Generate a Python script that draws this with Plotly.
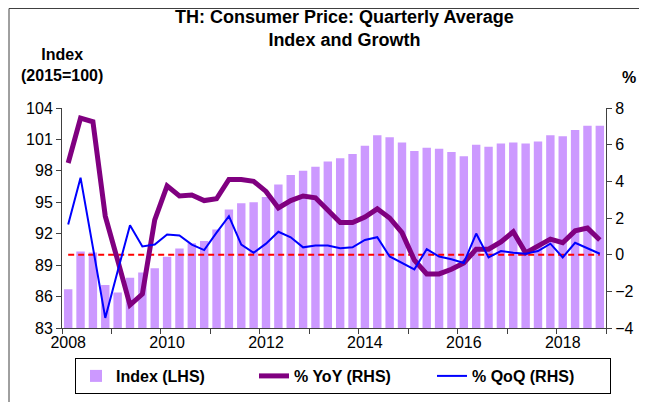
import plotly.graph_objects as go

# ── Datos trimestrales 2008Q1 - 2018Q4 ───────────────────────────────────────
trimestres = [f"{a}Q{q}" for a in range(2008, 2019) for q in range(1, 5)]

indice = [
    86.7, 90.3, 90.2, 87.1, 86.4, 87.8, 88.3, 88.7,
    89.8, 90.6, 91.1, 91.3, 92.4, 94.3, 94.9, 95.0,
    95.5, 96.7, 97.6, 98.0, 98.4, 98.9, 99.2, 99.6,
    100.4, 101.4, 101.2, 100.7, 99.9, 100.2, 100.1, 99.8,
    99.4, 100.5, 100.3, 100.6, 100.7, 100.6, 100.8, 101.4,
    101.3, 101.9, 102.3, 102.3,
]

yoy = [
    5.0, 7.45, 7.25, 2.1, -0.3, -2.75, -2.15, 1.9,
    3.75, 3.2, 3.25, 2.95, 3.05, 4.1, 4.1, 4.0,
    3.45, 2.55, 2.95, 3.2, 3.1, 2.45, 1.75, 1.75,
    2.05, 2.5, 2.0, 1.2, -0.3, -1.05, -1.05, -0.8,
    -0.45, 0.3, 0.3, 0.7, 1.25, 0.1, 0.45, 0.85,
    0.65, 1.3, 1.45, 0.8,
]

qoq = [
    1.65, 4.2, 0.4, -3.45, -0.9, 1.6, 0.45, 0.55,
    1.1, 1.05, 0.55, 0.25, 1.2, 2.1, 0.55, 0.1,
    0.6, 1.25, 0.95, 0.4, 0.5, 0.5, 0.35, 0.4,
    0.8, 0.95, -0.1, -0.45, -0.8, 0.3, -0.1, -0.25,
    -0.45, 1.15, -0.15, 0.2, 0.1, 0.05, 0.2, 0.6,
    -0.15, 0.65, 0.35, 0.05,
]

linea_cero = [0] * len(trimestres)

anios = [str(a) for a in range(2008, 2019, 2)]
pos = list(range(len(trimestres)))

FUENTE = "Liberation Sans, Arial, sans-serif"
# la página tiene 8 px de margen en el body: la figura ocupa 639x394
ANCHO, ALTO, OFF = 639, 394, 8
PX_L, PX_R, PX_T, PX_B = 62, 606, 108, 328  # área de trazado (px de página)


def px_x(p):
    return (p - PX_L) / (PX_R - PX_L)


def px_y(p):
    return (PX_B - p) / (PX_B - PX_T)


fig = go.Figure()

fig.add_trace(go.Bar(
    x=pos, y=indice, name="<b>Index (LHS)</b>",
    marker_color="#CC99FF", marker_line_width=0,
    width=0.68, yaxis="y",
))
fig.add_trace(go.Scatter(
    x=pos, y=linea_cero, mode="lines", showlegend=False,
    line=dict(color="#FF0000", width=2, dash="6px,4px"), yaxis="y2",
))
fig.add_trace(go.Scatter(
    x=pos, y=yoy, name="<b>% YoY (RHS)</b>", mode="lines",
    line=dict(color="#800080", width=5), yaxis="y2",
))
fig.add_trace(go.Scatter(
    x=pos, y=qoq, name="<b>% QoQ (RHS)</b>", mode="lines",
    line=dict(color="#0000FF", width=2), yaxis="y2",
))

eje = dict(showgrid=False, zeroline=False, showline=True,
           linecolor="#404040", linewidth=1,
           ticks="outside", ticklen=5, tickcolor="#404040",
           tickfont=dict(family=FUENTE, size=16, color="black"))

fig.update_layout(
    width=ANCHO, height=ALTO,
    margin=dict(l=PX_L - OFF, r=ANCHO - (PX_R - OFF), t=PX_T - OFF,
                b=ALTO - (PX_B - OFF), autoexpand=False),
    paper_bgcolor="white", plot_bgcolor="white",
    font=dict(family=FUENTE, color="black"),
    xaxis=dict(
        range=[-0.5, len(trimestres) - 0.5],
        tickmode="array", tickvals=pos[::8], ticktext=anios,
        showgrid=False, zeroline=False, showline=True,
        linecolor="#404040", linewidth=1, ticks="",
        tickfont=dict(family=FUENTE, size=16, color="black"),
        minor=dict(tickmode="array",
                   tickvals=[p - 0.5 for p in pos[::4]] + [len(trimestres) - 0.5],
                   ticks="outside", ticklen=5, tickcolor="#404040", showgrid=False),
    ),
    yaxis=dict(range=[83, 104], tickvals=list(range(83, 105, 3)), **eje),
    yaxis2=dict(range=[-4, 8], tickvals=list(range(-4, 9, 2)),
                overlaying="y", side="right", **eje),
    legend=dict(
        orientation="h", x=px_x(343), xanchor="center",
        y=px_y(394), yanchor="bottom",
        bordercolor="black", borderwidth=1,
        font=dict(family=FUENTE, size=16, color="black"),
        traceorder="normal", entrywidth=133,
    ),
    annotations=[
        dict(text="<b>TH: Consumer Price: Quarterly Average<br>Index and Growth</b>",
             xref="paper", yref="paper", x=px_x(344), y=px_y(29),
             xanchor="center", yanchor="middle", showarrow=False,
             font=dict(family=FUENTE, size=18)),
        dict(text="<b>Index<br>(2015=100)</b>", xref="paper", yref="paper",
             x=0, y=px_y(65), xanchor="center", yanchor="middle",
             showarrow=False, font=dict(family=FUENTE, size=16)),
        dict(text="<b>%</b>", xref="paper", yref="paper",
             x=px_x(629), y=px_y(77), xanchor="center", yanchor="middle",
             showarrow=False, font=dict(family=FUENTE, size=16)),
    ],
    shapes=[dict(type="rect", xref="paper", yref="paper",
                 x0=px_x(OFF + 1), x1=px_x(700), y0=px_y(450), y1=px_y(OFF + 0.5),
                 line=dict(color="#404040", width=1), layer="below")],
)

fig.write_html("out.html")
